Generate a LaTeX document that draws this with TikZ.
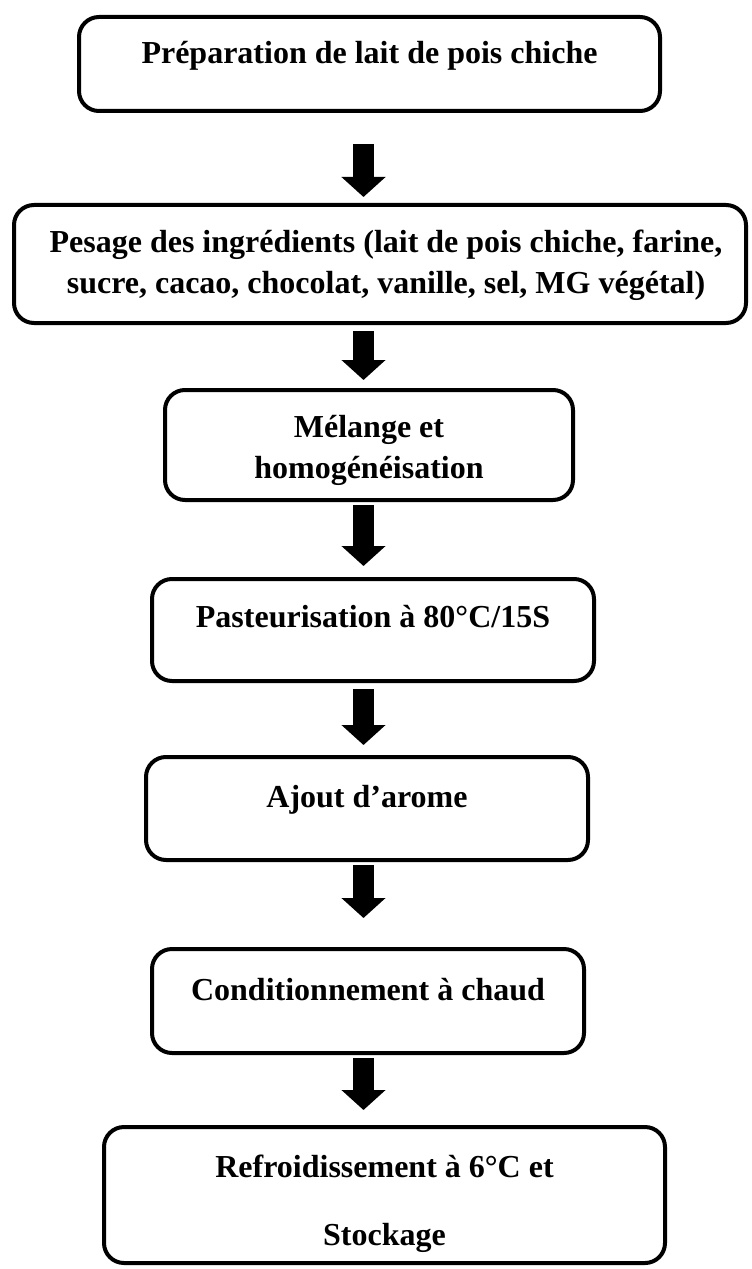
\documentclass[tikz,border=0pt]{standalone}
\usepackage{fontspec}
\setmainfont{Liberation Serif}
\usetikzlibrary{arrows.meta}

\begin{document}
\begin{tikzpicture}[x=0.75pt, y=-0.75pt,
  stepbox/.style={draw, line width=3pt, rounded corners=15pt, inner sep=0pt},
  steptext/.style={font=\fontsize{24pt}{30.75pt}\selectfont\bfseries, align=center, inner sep=0pt},
  fleche/.style={line width=15.75pt, -{Triangle[length=15pt, width=32.25pt]}}]
\useasboundingbox (0,0) rectangle (751,1269);
% boites
\node[stepbox, minimum width=435.75pt, minimum height=70.5pt] (b1) at (369.5,64) {};
\node[stepbox, minimum width=549pt, minimum height=88.5pt] (b2) at (380,264) {};
\node[stepbox, minimum width=306pt, minimum height=82.5pt] (b3) at (369,445) {};
\node[stepbox, minimum width=331.5pt, minimum height=76.5pt] (b4) at (373,630) {};
\node[stepbox, minimum width=331.5pt, minimum height=77.25pt] (b5) at (367,808.5) {};
\node[stepbox, minimum width=324pt, minimum height=78pt] (b6) at (368,1001) {};
\node[stepbox, minimum width=420.75pt, minimum height=102pt] (b7) at (384.5,1195) {};
% textes
\node[steptext, yshift=6.3pt] (t1) at (b1) {Préparation de lait de pois chiche};
\node[steptext, xshift=4.5pt, yshift=-0.8pt] (t2) at (b2) {Pesage des ingrédients (lait de pois chiche, farine,\\sucre, cacao, chocolat, vanille, sel, MG végétal)};
\node[steptext, yshift=-3.8pt] (t3) at (b3) {Mélange et\\homogénéisation};
\node[steptext, yshift=9.7pt] (t4) at (b4) {Pasteurisation à 80°C/15S};
\node[steptext, yshift=6.7pt] (t5) at (b5) {Ajout d’arome};
\node[steptext, yshift=8.9pt] (t6) at (b6) {Conditionnement à chaud};
\node[steptext, yshift=-6.5pt] (t7) at (b7) {Refroidissement à 6°C et\\[20.25pt]Stockage};
% fleches
\coordinate (ax) at (363.5,0);
\draw[fleche, shorten <=23.25pt, shorten >=4.5pt] (b1.south -| ax) -- (b2.north -| ax);
\draw[fleche, shorten <=4.5pt, shorten >=6pt] (b2.south -| ax) -- (b3.north -| ax);
\draw[fleche, shorten <=2.25pt, shorten >=8.25pt] (b3.south -| ax) -- (b4.north -| ax);
\draw[fleche, shorten <=4.5pt, shorten >=7.5pt] (b4.south -| ax) -- (b5.north -| ax);
\draw[fleche, shorten <=2.25pt, shorten >=21.75pt] (b5.south -| ax) -- (b6.north -| ax);
\draw[fleche, shorten <=2.25pt, shorten >=11.25pt] (b6.south -| ax) -- (b7.north -| ax);
\end{tikzpicture}
\end{document}
